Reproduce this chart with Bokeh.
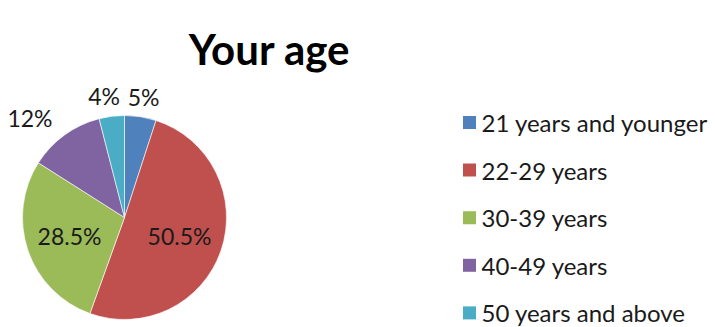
import math
from bokeh.plotting import figure
from bokeh.models import Range1d, ColumnDataSource
from bokeh.core.properties import value
from bokeh.embed import file_html
from bokeh.resources import INLINE

# ---- data ----
title_text = "Your age"
categories = ["21 years and younger", "22-29 years", "30-39 years", "40-49 years", "50 years and above"]
percents = [5, 50.5, 28.5, 12, 4]
pct_labels = ["5%", "50.5%", "28.5%", "12%", "4%"]
colors = ["#4F81BD", "#C0504D", "#9BBB59", "#8064A2", "#4BACC6"]

W, H = 715, 327
FONT = "Lato"

p = figure(width=W, height=H, x_range=Range1d(0, W), y_range=Range1d(0, H),
           output_backend="svg", toolbar_location=None, min_border=0)
p.axis.visible = False
p.grid.visible = False
p.outline_line_color = None
p.background_fill_color = "white"
p.border_fill_color = "white"

def px(xp):
    return xp

def py(yp):
    return H - yp

# pie layout
cx, cy, R = px(124), py(217), 102

total = sum(percents)
starts, ends, mids = [], [], []
cum = 0.0
for v in percents:
    a0 = cum / total
    cum += v
    a1 = cum / total
    starts.append(math.pi / 2 - 2 * math.pi * a0)
    ends.append(math.pi / 2 - 2 * math.pi * a1)
    mids.append(2 * math.pi * (a0 + a1) / 2)  # clockwise from top

src = ColumnDataSource(dict(x=[cx] * len(percents), y=[cy] * len(percents),
                            start=starts, end=ends, color=colors))
p.wedge(x="x", y="y", radius=R, start_angle="start", end_angle="end",
        direction="clock", fill_color="color", line_color="white",
        line_width=0.6, source=src)

# data labels
lx, ly, la = [], [], []
for v, m in zip(percents, mids):
    s, c = math.sin(m), math.cos(m)
    if v >= 15:
        r = 0.57 * R
        align = "center"
    else:
        r = 1.2 * R
        align = "right" if s < -0.3 else ("left" if s > 0.3 else "center")
    dx = -5 if (v < 15 and align == "center" and s < 0) else 0
    lx.append(cx + r * s + dx)
    ly.append(cy + r * c)
    la.append(align)
lsrc = ColumnDataSource(dict(x=lx, y=ly, t=pct_labels, a=la))
p.text(x="x", y="y", text="t", text_align="a", text_baseline="middle",
       text_font=value(FONT), text_font_size="23px", text_color="#1a1a1a",
       source=lsrc)

# title
p.text(x=[px(269)], y=[py(48)], text=[title_text], text_align="center",
       text_baseline="alphabetic", text_font=value(FONT),
       text_font_size="42px", text_font_style="bold", text_color="black")

# legend
row0, step = 122, 47.6
gy = [py(row0 + i * step) for i in range(len(categories))]
p.rect(x=[px(469)] * len(categories), y=gy, width=13, height=13,
       width_units="screen", height_units="screen",
       fill_color=colors, line_color=None)
p.text(x=[px(481)] * len(categories), y=gy, text=categories,
       text_align="left", text_baseline="middle", text_font=value(FONT),
       text_font_size="24px", text_color="#1a1a1a")

open("out.html", "w").write(file_html(p, INLINE))
